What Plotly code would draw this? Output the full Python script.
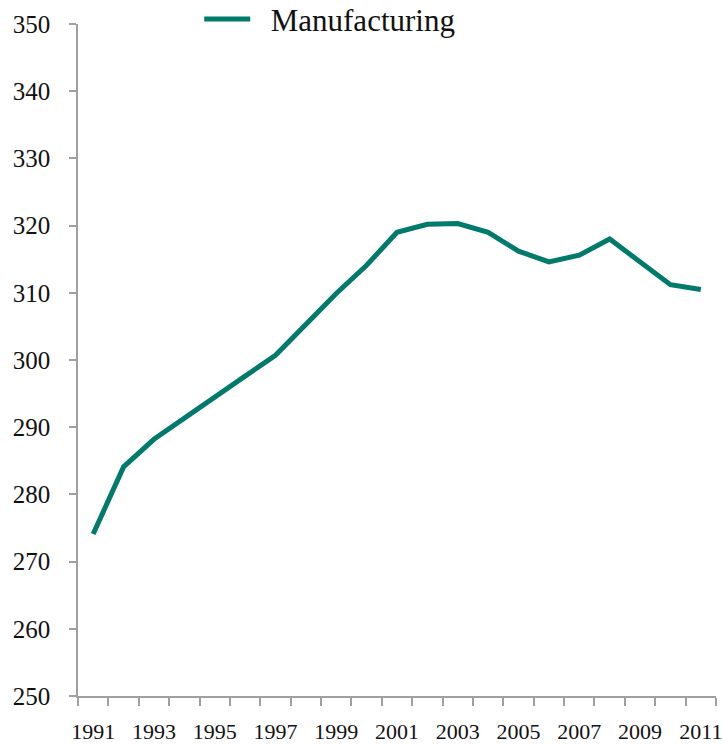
import plotly.graph_objects as go

years = list(range(1991, 2012))
manufacturing = [274.1, 284.1, 288.2, 291.4, 294.6, 297.6, 300.7, 305.4, 309.9, 314.1,
                 319.0, 320.2, 320.3, 319.0, 316.2, 314.6, 315.6, 318.0, 314.5, 311.2, 310.5]
x_tick_labels = [str(y) for y in range(1991, 2012, 2)]
y_ticks = list(range(250, 351, 10))

axis_color = "#a0a0a0"
font_family = "Liberation Serif, DejaVu Serif, serif"

fig = go.Figure()
fig.add_trace(go.Scatter(
    x=years, y=manufacturing, mode="lines", name="\u00a0\u00a0Manufacturing",
    line=dict(color="#007A6B", width=5),
))

fig.update_layout(
    width=722, height=744,
    margin=dict(l=78, r=6, t=24, b=48, autoexpand=False),
    paper_bgcolor="white", plot_bgcolor="white",
    font=dict(family=font_family, color="#111111", size=22),
    showlegend=True,
    legend=dict(orientation="h", x=0.19, xanchor="left", y=1.047, yanchor="top",
                itemwidth=46,
                font=dict(size=31, family=font_family), bgcolor="rgba(0,0,0,0)"),
    xaxis=dict(
        range=[1990.5, 2011.5], showgrid=False, zeroline=False, automargin=False,
        showline=True, linecolor=axis_color, linewidth=1.5,
        tickvals=[int(t) for t in x_tick_labels], ticktext=x_tick_labels,
        ticks="", ticklabelstandoff=15, ticklabeloverflow="allow",
        minor=dict(ticks="outside", tick0=1990.5, dtick=1, ticklen=8,
                   tickcolor=axis_color, tickwidth=1.5, showgrid=False),
        tickfont=dict(size=22),
    ),
    yaxis=dict(
        range=[250, 350], showgrid=False, zeroline=False, automargin=False,
        showline=True, linecolor=axis_color, linewidth=1.5,
        tickvals=y_ticks, ticks="outside", ticklen=7, tickcolor=axis_color, tickwidth=1.5,
        ticklabelstandoff=14, tickfont=dict(size=25),
    ),
)

fig.write_html("out.html")
